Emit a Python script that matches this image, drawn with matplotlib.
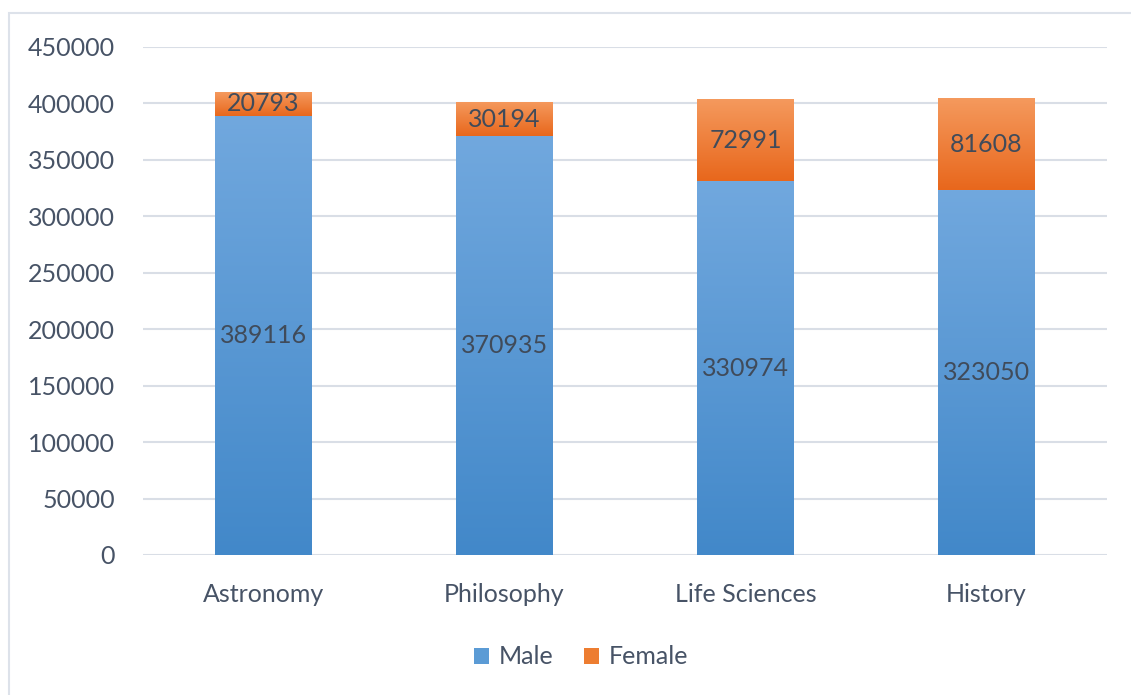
import numpy as np
import matplotlib
matplotlib.use("Agg")
import matplotlib.pyplot as plt
from matplotlib.colors import LinearSegmentedColormap
from matplotlib.patches import Rectangle, Patch

categories = ["Astronomy", "Philosophy", "Life Sciences", "History"]
male = [389116, 370935, 330974, 323050]
female = [20793, 30194, 72991, 81608]
yticks = [0, 50000, 100000, 150000, 200000, 250000, 300000, 350000, 400000, 450000]

plt.rcParams['font.family'] = ['Lato', 'DejaVu Sans']
text_col = "#475366"
grid_col = "#d9dee6"

blue_cmap = LinearSegmentedColormap.from_list("b", ["#4288c9", "#71a8de"])
orange_cmap = LinearSegmentedColormap.from_list("o", ["#e8671c", "#f59a5e"])

fig = plt.figure(figsize=(11.31, 6.95), dpi=100)
W, H = 1131, 695
ax = fig.add_axes([143 / W, (H - 555) / H, (1107 - 143) / W, (555 - 47) / H])

# outer chart border
fig.patches.append(Rectangle((9 / W, -0.1), 1.2, 1 - 13 / H + 0.1, transform=fig.transFigure,
                             fill=False, edgecolor="#dde2ea", linewidth=1.5))

x = np.arange(len(categories))
width = 0.40

male_bars = ax.bar(x, male, width, color="none", edgecolor="none")
female_bars = ax.bar(x, female, width, bottom=male, color="none", edgecolor="none")


def gradient_fill(bars, cmap):
    grad = np.linspace(0, 1, 256).reshape(-1, 1)
    for b in bars:
        x0, y0 = b.get_x(), b.get_y()
        w, h = b.get_width(), b.get_height()
        im = ax.imshow(grad, cmap=cmap, origin="lower", aspect="auto",
                       extent=[x0, x0 + w, y0, y0 + h], zorder=2)
        im.set_clip_path(b)


gradient_fill(male_bars, blue_cmap)
gradient_fill(female_bars, orange_cmap)
ax.set_xlim(-0.5, len(categories) - 0.5)
ax.set_ylim(0, 450000)

for i in range(len(categories)):
    ax.text(x[i], male[i] / 2, str(male[i]), ha="center", va="center",
            fontsize=18, color="#404b5a", zorder=3)
    ax.text(x[i], male[i] + female[i] / 2, str(female[i]), ha="center", va="center",
            fontsize=18, color="#404b5a", zorder=3)

ax.set_yticks(yticks)
ax.set_yticklabels([str(v) for v in yticks])
ax.set_xticks(x)
ax.set_xticklabels(categories)
ax.tick_params(axis="both", length=0, labelsize=18, labelcolor=text_col)
ax.tick_params(axis="y", pad=20)
ax.tick_params(axis="x", pad=20)
ax.yaxis.grid(True, color=grid_col, linewidth=1.5)
ax.set_axisbelow(True)
for s in ax.spines.values():
    s.set_visible(False)

handles = [Patch(facecolor="#5b9bd5", label="Male"), Patch(facecolor="#ed7d31", label="Female")]
fig.legend(handles=handles, loc="center", bbox_to_anchor=(581 / W, 1 - 657 / H), ncol=2,
           frameon=False, fontsize=18, labelcolor=text_col, handlelength=0.6, handleheight=0.6,
           handletextpad=0.4, columnspacing=1.2)

fig.savefig("out.png", dpi=100)
